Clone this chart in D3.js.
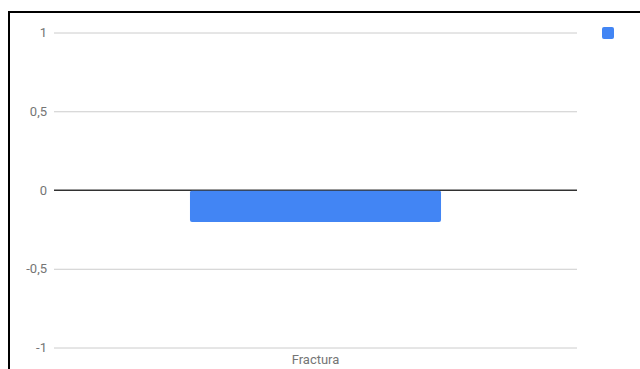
<!DOCTYPE html>
<html>
<head>
<meta charset="utf-8">
<script src="https://cdn.jsdelivr.net/npm/d3@7"></script>
<style>
  html, body { margin: 0; padding: 0; background: #fff; }
  svg { display: block; }
</style>
</head>
<body>
<svg id="chart" width="640" height="369"></svg>
<script>
// Chart data
const categories = ["Fractura"];
const values = [-0.2];
const tickValues = [-1, -0.5, 0, 0.5, 1];
const tickLabels = ["-1", "-0,5", "0", "0,5", "1"];

const svg = d3.select("#chart");

// Outer frame (clipped at right and bottom edges)
svg.append("rect")
  .attr("x", 9).attr("y", 12)
  .attr("width", 660).attr("height", 400)
  .attr("fill", "none")
  .attr("stroke", "#000")
  .attr("stroke-width", 2);

const plot = { left: 54, right: 577, top: 32.5, bottom: 347.5 };

const y = d3.scaleLinear().domain([-1, 1]).range([plot.bottom, plot.top]);
const x = d3.scaleBand().domain(categories).range([plot.left, plot.right]).paddingInner(0.52).paddingOuter(0.26);

const labelFont = "Roboto, Arial, sans-serif";
const labelColor = "#757575";

// Gridlines and value labels
const yAxis = d3.axisLeft(y)
  .tickValues(tickValues)
  .tickSize(-(plot.right - plot.left))
  .tickPadding(7)
  .tickFormat((d, i) => tickLabels[i]);

const gy = svg.append("g")
  .attr("transform", `translate(${plot.left},0)`)
  .call(yAxis);
gy.select(".domain").remove();
gy.selectAll(".tick line")
  .attr("stroke", d => d === 0 ? "#333" : "#ccc")
  .attr("stroke-width", 1);
gy.selectAll(".tick text")
  .attr("fill", labelColor)
  .attr("font-family", labelFont)
  .attr("font-size", 13);

// Bars
svg.append("g").selectAll("rect")
  .data(values)
  .join("rect")
  .attr("x", (d, i) => x(categories[i]))
  .attr("width", x.bandwidth())
  .attr("y", d => y(Math.max(0, d)) + 0.5)
  .attr("height", d => Math.abs(y(d) - y(0)))
  .attr("rx", 2)
  .attr("fill", "#4285f4");

// Zero baseline drawn over bar
svg.append("line")
  .attr("x1", plot.left).attr("x2", plot.right)
  .attr("y1", y(0)).attr("y2", y(0))
  .attr("stroke", "#333").attr("stroke-width", 1);

// Category axis labels
const xAxis = d3.axisBottom(x).tickSize(0).tickPadding(7);
const gx = svg.append("g")
  .attr("transform", `translate(0,${plot.bottom})`)
  .call(xAxis);
gx.select(".domain").remove();
gx.selectAll(".tick text")
  .attr("fill", labelColor)
  .attr("font-family", labelFont)
  .attr("font-size", 13);

// Legend marker
svg.append("rect")
  .attr("x", 602).attr("y", 27)
  .attr("width", 12).attr("height", 12)
  .attr("rx", 2)
  .attr("fill", "#4285f4");
</script>
</body>
</html>
